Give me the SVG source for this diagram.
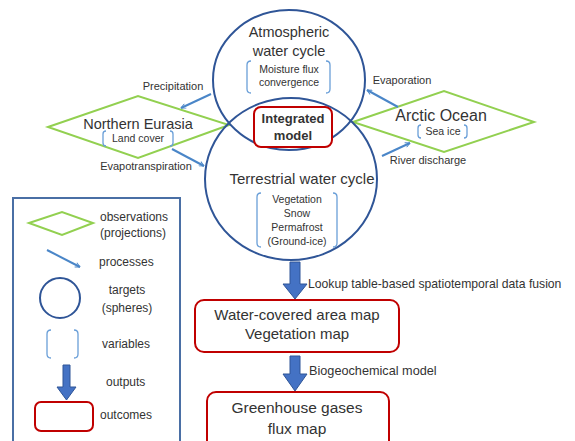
<svg xmlns="http://www.w3.org/2000/svg" width="575" height="441" viewBox="0 0 575 441">
<defs>
<marker id="ah" viewBox="0 0 10 10" refX="9" refY="5" markerWidth="6" markerHeight="6" orient="auto" markerUnits="userSpaceOnUse">
<path d="M1,1 L9,5 L1,9" fill="none" stroke="#4a86c8" stroke-width="1.6"/>
</marker>
</defs>
<style>
text{font-family:"Liberation Sans",Arial,sans-serif;fill:#333;}
.sphere{fill:none;stroke:#2f5597;stroke-width:2;}
.obs{fill:none;stroke:#92d050;stroke-width:2;}
.proc{fill:none;stroke:#4a86c8;stroke-width:2;marker-end:url(#ah);}
.br{fill:none;stroke:#6a9fd8;stroke-width:1.3;}
.out{fill:none;stroke:#c00000;stroke-width:2;}
.thick{fill:#4472c4;stroke:#2f5597;stroke-width:1;}
.big{font-size:14.5px;}
.sm{font-size:10.5px;}
.lab{font-size:11px;}
.leg{font-size:12px;}
</style>
<rect width="575" height="441" fill="#fff"/>

<g id="northern-eurasia">
<polygon class="obs" points="48,127 138,96 229,125 138,158"/>
<text class="big" x="138" y="129" text-anchor="middle">Northern Eurasia</text>
<path class="br" d="M106,131 q-3,0 -3,3 v9 q0,3 3,3 M170,131 q3,0 3,3 v9 q0,3 -3,3"/>
<text class="sm" x="138" y="142" text-anchor="middle">Land cover</text>
</g>

<g id="arctic-ocean">
<polygon class="obs" points="353,122 444,91 534,122 444,152"/>
<text x="441" y="121" text-anchor="middle" style="font-size:16px">Arctic Ocean</text>
<path class="br" d="M421,125 q-3,0 -3,3 v7 q0,3 3,3 M464,125 q3,0 3,3 v7 q0,3 -3,3"/>
<text class="sm" x="443" y="135" text-anchor="middle">Sea ice</text>
</g>

<g id="atmospheric">
<ellipse class="sphere" cx="289" cy="80" rx="76" ry="70"/>
<text class="big" x="289" y="37" text-anchor="middle">Atmospheric</text>
<text class="big" x="289" y="56" text-anchor="middle">water cycle</text>
<path class="br" d="M251,61 q-4,0 -4,4 v24 q0,4 4,4 M326,61 q4,0 4,4 v24 q0,4 -4,4"/>
<text class="sm" x="289" y="73" text-anchor="middle">Moisture flux</text>
<text class="sm" x="289" y="86" text-anchor="middle">convergence</text>
</g>

<g id="terrestrial">
<ellipse class="sphere" cx="291" cy="179" rx="86" ry="81"/>
<text class="big" x="302" y="184" text-anchor="middle" style="font-size:15px">Terrestrial water cycle</text>
<path class="br" d="M261,193 q-4,0 -4,4 v46 q0,4 4,4 M333,193 q4,0 4,4 v46 q0,4 -4,4"/>
<text class="sm" x="297" y="203" text-anchor="middle">Vegetation</text>
<text class="sm" x="297" y="217" text-anchor="middle">Snow</text>
<text class="sm" x="297" y="231" text-anchor="middle">Permafrost</text>
<text class="sm" x="297" y="245" text-anchor="middle">(Ground-ice)</text>
</g>

<g id="integrated-model">
<rect class="out" x="254" y="107" width="78" height="40" rx="7" style="fill:#fff"/>
<text x="293" y="123" text-anchor="middle" style="font-size:13px;font-weight:bold">Integrated</text>
<text x="293" y="140" text-anchor="middle" style="font-size:13px;font-weight:bold">model</text>
</g>

<g id="water-map">
<rect class="out" x="195" y="300" width="204" height="52" rx="9"/>
<text x="297" y="320" text-anchor="middle" style="font-size:15px">Water-covered  area map</text>
<text x="297" y="339" text-anchor="middle" style="font-size:15px">Vegetation map</text>
</g>

<g id="ghg-map">
<rect class="out" x="207" y="392" width="182" height="60" rx="9"/>
<text x="297" y="413" text-anchor="middle" style="font-size:15.5px">Greenhouse gases</text>
<text x="297" y="434" text-anchor="middle" style="font-size:15.5px">flux map</text>
</g>

<g id="connectors">
<line class="proc" x1="211" y1="94" x2="181" y2="108"/>
<text class="lab" x="173" y="90" text-anchor="middle">Precipitation</text>
<line class="proc" x1="172" y1="149" x2="204" y2="166"/>
<text class="lab" x="146" y="170" text-anchor="middle">Evapotranspiration</text>
<line class="proc" x1="398" y1="107" x2="367" y2="90"/>
<text class="lab" x="402" y="84" text-anchor="middle">Evaporation</text>
<line class="proc" x1="382" y1="156" x2="410" y2="143"/>
<text class="lab" x="428" y="164" text-anchor="middle">River discharge</text>
<path class="thick" d="M290,262 h10 v22 h7 l-12,15 l-12,-15 h7 z"/>
<text x="308" y="288" style="font-size:12.2px">Lookup table-based spatiotemporal data fusion</text>
<path class="thick" d="M290,356 h10 v18 h7 l-12,17 l-12,-17 h7 z"/>
<text x="309" y="375" style="font-size:12.7px">Biogeochemical model</text>
</g>

<g id="legend">
<rect x="13" y="198" width="167" height="250" fill="#fff" stroke="#4a6fa5" stroke-width="2"/>
<polygon class="obs" points="29,223 62,212 93,223 62,235"/>
<text class="leg" x="100" y="221">observations</text>
<text class="leg" x="100" y="237">(projections)</text>
<line class="proc" x1="47" y1="250" x2="80" y2="267"/>
<text class="leg" x="99" y="266">processes</text>
<circle class="sphere" cx="60" cy="298" r="20"/>
<text class="leg" x="127" y="294" text-anchor="middle">targets</text>
<text class="leg" x="127" y="312" text-anchor="middle">(spheres)</text>
<path class="br" d="M51,330 q-4,0 -4,4 v20 q0,4 4,4 M74,330 q4,0 4,4 v20 q0,4 -4,4"/>
<text class="leg" x="102" y="348">variables</text>
<path class="thick" d="M63,365 h7 v22 h6 l-9.5,13 l-9.5,-13 h6 z"/>
<text class="leg" x="106" y="386">outputs</text>
<rect class="out" x="35" y="402" width="58" height="29" rx="6"/>
<text class="leg" x="100" y="419">outcomes</text>
</g>
</svg>
